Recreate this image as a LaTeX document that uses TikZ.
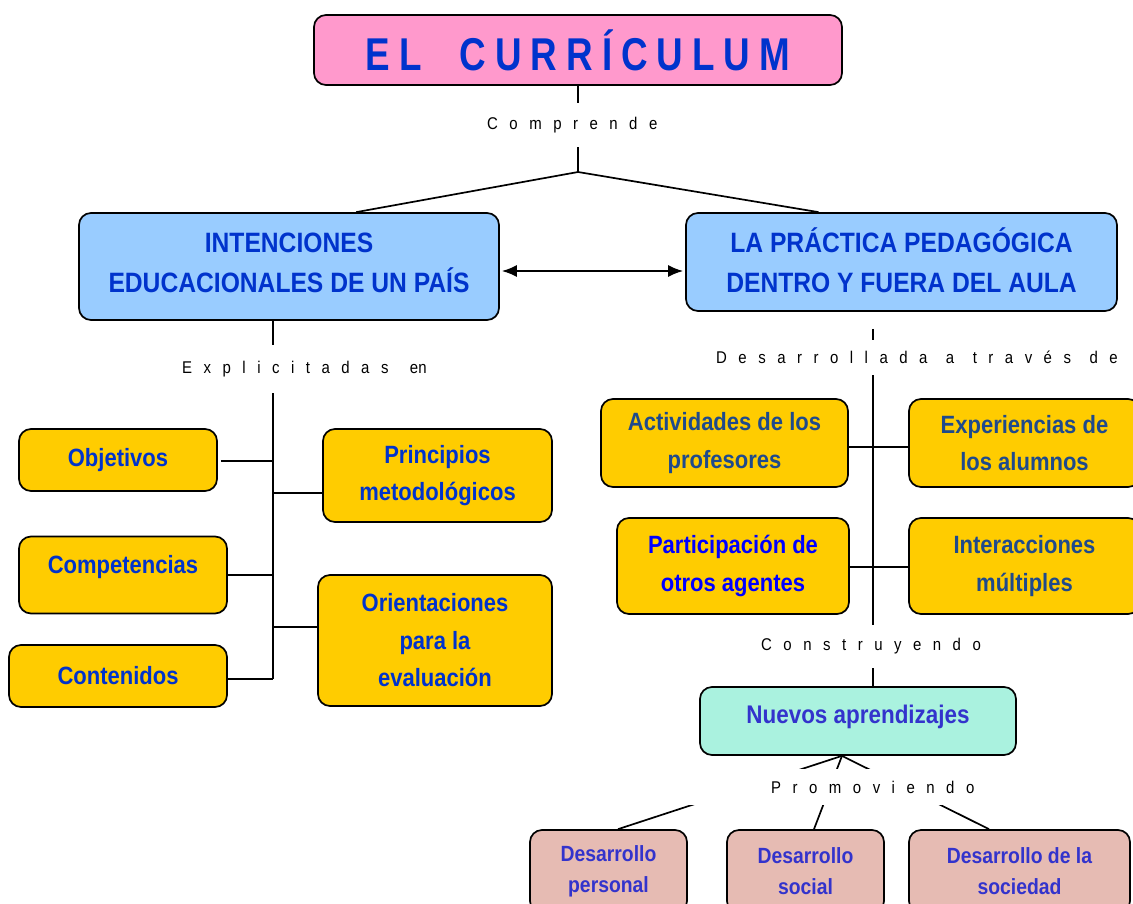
\documentclass[tikz,border=0pt]{standalone}
\usepackage{fontspec}
\setmainfont{Liberation Sans}[FakeStretch=0.88]
\newfontfamily\titlefont{Liberation Sans}[FakeStretch=0.8]
\usetikzlibrary{arrows.meta,calc}
\definecolor{ylw}{HTML}{FFCC00}
\definecolor{pinkc}{HTML}{FF99CC}
\definecolor{bluec}{HTML}{99CCFF}
\definecolor{tealc}{HTML}{AAF2DF}
\definecolor{rosec}{HTML}{E6BBB3}
\definecolor{tblue}{HTML}{0033CC}
\definecolor{slate}{HTML}{1F4A8C}
\definecolor{pblue}{HTML}{0000FF}
\definecolor{nblue}{HTML}{3333CC}
\newlength\lsp
\newlength\wsp
\def\ws{\hspace{\wsp}}
\def\spaced#1{\spacedi#1\relax}
\def\spacedi#1{\ifx#1\relax\else#1\hspace{\lsp}\expandafter\spacedi\fi}
\begin{document}
\begin{tikzpicture}[x=1pt,y=-1pt,
  box/.style={draw=black, line width=1.7pt, rounded corners=12pt, inner sep=0pt},
  conn/.style={line width=1.7pt, draw=black},
  lab/.style={inner sep=0pt, anchor=west, text=black, font=\fontsize{17}{20}\selectfont},
  tbox/.style={box, fill=pinkc, text=tblue, font=\titlefont\bfseries\fontsize{46}{50}\selectfont},
  bbox/.style={box, fill=bluec, text=tblue, align=center, font=\bfseries\fontsize{28}{40}\selectfont},
  ybox/.style={box, fill=ylw, text=tblue, align=center, font=\bfseries\fontsize{25}{37.5}\selectfont},
  nbox/.style={box, fill=tealc, text=nblue, align=center, font=\bfseries\fontsize{25.5}{36}\selectfont},
  rbox/.style={box, fill=rosec, text=nblue, align=center, font=\bfseries\fontsize{22}{31}\selectfont},
  dart/.style={line width=1.7pt, {Latex[length=15pt,width=12pt]}-{Latex[length=15pt,width=12pt]}}]
\useasboundingbox (0,0) rectangle (1133,903);
\coordinate (rightedge) at (1133,0);
% title
\node[tbox, minimum width=528, minimum height=70] (title) at (578,50)
  {\setlength\lsp{9pt}\setlength\wsp{20pt}\spaced{EL\ws CURRÍCULUM}};
% main boxes
\node[bbox, minimum width=420, minimum height=107, text depth=8pt] (intenciones) at (289,266.5) {INTENCIONES\\EDUCACIONALES DE UN PAÍS};
\node[bbox, minimum width=431, minimum height=98, text depth=4pt] (practica) at (901.5,262) {LA PRÁCTICA PEDAGÓGICA\\DENTRO Y FUERA DEL AULA};
% left yellow boxes
\node[ybox, minimum width=198, minimum height=62] (objetivos) at (118,460) {Objetivos};
\node[ybox, minimum width=229, minimum height=93] (principios) at (437.5,475.5) {Principios\\metodológicos};
\node[ybox, minimum width=208, minimum height=77, text height=18pt, text depth=21pt] (competencias) at (123,575) {Competencias};
\node[ybox, minimum width=234, minimum height=131] (orientaciones) at (435,640.5) {Orientaciones\\para la\\evaluación};
\node[ybox, minimum width=218, minimum height=62] (contenidos) at (118,676) {Contenidos};
% right yellow boxes
\node[ybox, text=slate, minimum width=247, minimum height=88] (actividades) at (724.5,443) {Actividades de los\\profesores};
\node[ybox, text=slate, minimum width=231, minimum height=88] (experiencias) at (1024.5,443) {Experiencias de\\los alumnos};
\node[ybox, text=pblue, minimum width=232, minimum height=96] (participacion) at (733,566) {Participación de\\otros agentes};
\node[ybox, text=slate, minimum width=231, minimum height=96] (interacciones) at (1024.5,566) {Interacciones\\múltiples};
% lower boxes
\node[nbox, minimum width=316, minimum height=68, text height=18pt, text depth=14pt] (nuevos) at (858,721) {Nuevos aprendizajes};
\node[rbox, minimum width=157, minimum height=83] (dpersonal) at (608.5,871.5) {Desarrollo\\personal};
\node[rbox, minimum width=157, minimum height=83] (dsocial) at (805.5,871.5) {Desarrollo\\social};
\node[rbox, minimum width=221, minimum height=83] (dsociedad) at (1019.5,871.5) {Desarrollo de la\\sociedad};
% linking labels
\node[lab, minimum height=44] (comprende) at (487,125) {\setlength\lsp{11.5pt}\spaced{Comprende}};
\node[lab, minimum height=48] (explicitadas) at (182,369) {\setlength\lsp{11.5pt}\setlength\wsp{-1.5pt}\spaced{Explicitadas\ws}en};
\node[lab, minimum height=35] (desarrollada) at (716,357.5) {\setlength\lsp{11.5pt}\setlength\wsp{-4.5pt}\spaced{Desarrollada\ws a\ws través\ws de}};
\node[lab, minimum height=43] (construyendo) at (761,646.5) {\setlength\lsp{11.5pt}\spaced{Construyendo}};
\node[lab, minimum height=36] (promoviendo) at (771,787) {\setlength\lsp{11.5pt}\spaced{Promoviendo}};
% connectors: top
\coordinate (apex) at (578,172);
\draw[conn] (title.south) -- (title.south |- comprende.north);
\draw[conn] (title.south |- comprende.south) -- (apex);
\draw[conn] (apex) -- (intenciones.39);
\draw[conn] (apex) -- (practica.149);
\draw[dart] ($(intenciones.east)+(2,4.5)$) -- ($(practica.west)+(-2,9)$);
% left tree
\coordinate (tL) at (273,679);
\draw[conn] (intenciones.south -| tL) -- (explicitadas.north -| tL);
\draw[conn] (explicitadas.south -| tL) -- (tL);
\draw[conn] ($(objetivos.east)+(3,1)$) -- ($(objetivos.east -| tL)+(0,1)$);
\draw[conn] ($(principios.west)+(0,17.5)$) -- ($(principios.west -| tL)+(0,17.5)$);
\draw[conn] (competencias.east) -- (competencias.east -| tL);
\draw[conn] ($(orientaciones.west)+(0,-13.5)$) -- ($(orientaciones.west -| tL)+(0,-13.5)$);
\draw[conn] ($(contenidos.east)+(0,3)$) -- (tL);
% right tree
\coordinate (tR) at (873,0);
\draw[conn] ($(practica.south -| tR)+(0,17)$) -- (desarrollada.north -| tR);
\draw[conn] (desarrollada.south -| tR) -- (construyendo.north -| tR);
\draw[conn] (construyendo.south -| tR) -- (nuevos.north -| tR);
\draw[conn] ($(actividades.east)+(0,4)$) -- ($(experiencias.west)+(0,4)$);
\draw[conn] ($(participacion.east)+(0,1)$) -- ($(interacciones.west)+(0,1)$);
% bottom
\coordinate (apex2) at ($(nuevos.south)+(-16,0)$);
\begin{scope}
\clip (0,0) rectangle (promoviendo.north -| rightedge) (0,903) rectangle (promoviendo.south -| rightedge);
\draw[conn] (apex2) -- ($(dpersonal.north)+(9.5,0)$);
\draw[conn] (apex2) -- ($(dsocial.north)+(8.5,0)$);
\draw[conn] (apex2) -- ($(dsociedad.north)+(-30.5,0)$);
\end{scope}
\end{tikzpicture}
\end{document}
